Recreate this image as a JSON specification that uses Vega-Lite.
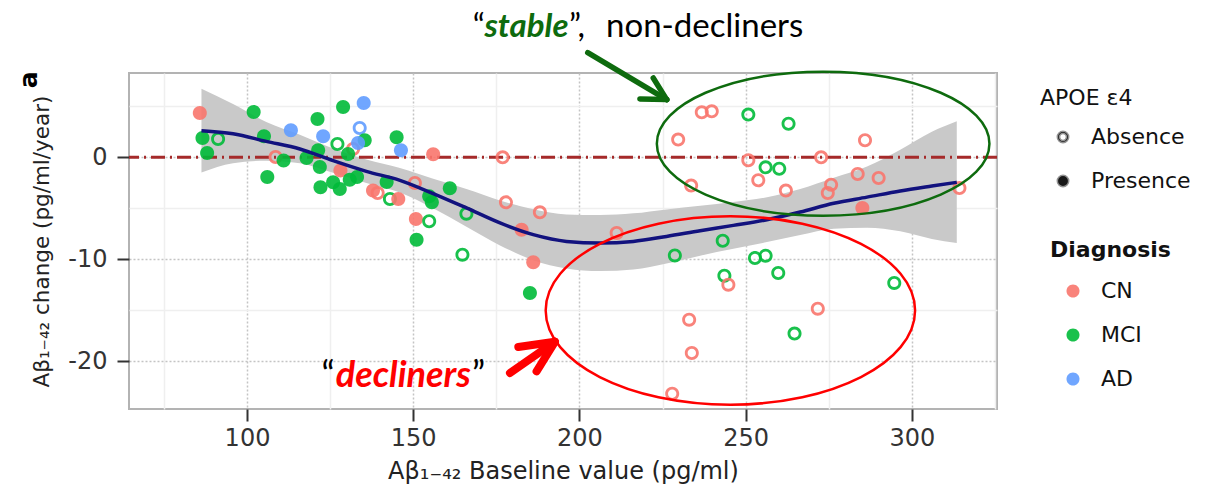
{
  "$schema": "https://vega.github.io/schema/vega-lite/v6.json",
  "width": 868,
  "height": 336,
  "autosize": {"type": "none"},
  "padding": {"left": 129, "top": 73, "right": 216, "bottom": 84},
  "background": "white",
  "config": {
    "view": {"stroke": "#b3b3b3", "strokeWidth": 2},
    "legend": {"labelFont": "DejaVu Sans", "labelFontSize": 22, "labelColor": "#111111", "titleFont": "DejaVu Sans", "titleFontSize": 22, "titleColor": "#111111"}
  },
  "datasets": {
    "pts": [
      {"b": 85.8, "c": 4.35, "dx": "CN", "apoe": "Presence"},
      {"b": 86.6, "c": 1.9, "dx": "MCI", "apoe": "Presence"},
      {"b": 91.3, "c": 1.8, "dx": "MCI", "apoe": "Absence"},
      {"b": 88.0, "c": 0.43, "dx": "MCI", "apoe": "Presence"},
      {"b": 102.0, "c": 4.45, "dx": "MCI", "apoe": "Presence"},
      {"b": 105.1, "c": 2.06, "dx": "MCI", "apoe": "Presence"},
      {"b": 108.6, "c": 0.04, "dx": "CN", "apoe": "Absence"},
      {"b": 111.0, "c": -0.3, "dx": "MCI", "apoe": "Presence"},
      {"b": 106.1, "c": -1.92, "dx": "MCI", "apoe": "Presence"},
      {"b": 113.2, "c": 2.65, "dx": "AD", "apoe": "Presence"},
      {"b": 121.2, "c": 3.76, "dx": "MCI", "apoe": "Presence"},
      {"b": 122.9, "c": 2.06, "dx": "AD", "apoe": "Presence"},
      {"b": 117.9, "c": -0.06, "dx": "MCI", "apoe": "Presence"},
      {"b": 121.4, "c": 0.69, "dx": "MCI", "apoe": "Presence"},
      {"b": 121.9, "c": -0.94, "dx": "MCI", "apoe": "Presence"},
      {"b": 122.1, "c": -2.94, "dx": "MCI", "apoe": "Presence"},
      {"b": 125.9, "c": -2.45, "dx": "MCI", "apoe": "Presence"},
      {"b": 127.9, "c": -3.1, "dx": "MCI", "apoe": "Presence"},
      {"b": 128.9, "c": 4.94, "dx": "MCI", "apoe": "Presence"},
      {"b": 127.2, "c": 1.31, "dx": "MCI", "apoe": "Absence"},
      {"b": 135.1, "c": 5.33, "dx": "AD", "apoe": "Presence"},
      {"b": 133.9, "c": 2.88, "dx": "AD", "apoe": "Absence"},
      {"b": 135.4, "c": 1.67, "dx": "MCI", "apoe": "Presence"},
      {"b": 131.9, "c": 0.82, "dx": "CN", "apoe": "Absence"},
      {"b": 133.4, "c": 1.41, "dx": "AD", "apoe": "Presence"},
      {"b": 130.4, "c": 0.33, "dx": "MCI", "apoe": "Presence"},
      {"b": 128.1, "c": -1.3, "dx": "CN", "apoe": "Presence"},
      {"b": 130.9, "c": -2.19, "dx": "MCI", "apoe": "Presence"},
      {"b": 133.1, "c": -1.92, "dx": "MCI", "apoe": "Presence"},
      {"b": 145.0, "c": 1.96, "dx": "MCI", "apoe": "Presence"},
      {"b": 146.3, "c": 0.69, "dx": "AD", "apoe": "Presence"},
      {"b": 142.0, "c": -2.41, "dx": "MCI", "apoe": "Presence"},
      {"b": 137.9, "c": -3.24, "dx": "CN", "apoe": "Presence"},
      {"b": 139.3, "c": -3.5, "dx": "CN", "apoe": "Absence"},
      {"b": 143.0, "c": -4.08, "dx": "MCI", "apoe": "Absence"},
      {"b": 145.5, "c": -4.08, "dx": "CN", "apoe": "Presence"},
      {"b": 150.5, "c": -2.51, "dx": "CN", "apoe": "Absence"},
      {"b": 150.8, "c": -6.04, "dx": "CN", "apoe": "Presence"},
      {"b": 151.0, "c": -8.07, "dx": "MCI", "apoe": "Presence"},
      {"b": 156.0, "c": 0.3, "dx": "CN", "apoe": "Presence"},
      {"b": 154.8, "c": -6.27, "dx": "MCI", "apoe": "Absence"},
      {"b": 154.8, "c": -3.82, "dx": "MCI", "apoe": "Presence"},
      {"b": 155.6, "c": -4.4, "dx": "MCI", "apoe": "Presence"},
      {"b": 161.0, "c": -3.04, "dx": "MCI", "apoe": "Presence"},
      {"b": 166.0, "c": -5.52, "dx": "MCI", "apoe": "Absence"},
      {"b": 164.8, "c": -9.54, "dx": "MCI", "apoe": "Absence"},
      {"b": 176.9, "c": 0.0, "dx": "CN", "apoe": "Absence"},
      {"b": 177.9, "c": -4.41, "dx": "CN", "apoe": "Absence"},
      {"b": 188.1, "c": -5.39, "dx": "CN", "apoe": "Absence"},
      {"b": 182.6, "c": -7.09, "dx": "CN", "apoe": "Presence"},
      {"b": 186.1, "c": -10.29, "dx": "CN", "apoe": "Presence"},
      {"b": 185.1, "c": -13.3, "dx": "MCI", "apoe": "Presence"},
      {"b": 211.2, "c": -7.41, "dx": "CN", "apoe": "Absence"},
      {"b": 236.8, "c": 4.41, "dx": "CN", "apoe": "Absence"},
      {"b": 239.8, "c": 4.51, "dx": "CN", "apoe": "Absence"},
      {"b": 250.8, "c": 4.19, "dx": "MCI", "apoe": "Absence"},
      {"b": 262.9, "c": 3.3, "dx": "MCI", "apoe": "Absence"},
      {"b": 229.7, "c": 1.74, "dx": "CN", "apoe": "Absence"},
      {"b": 285.9, "c": 1.67, "dx": "CN", "apoe": "Absence"},
      {"b": 250.8, "c": -0.29, "dx": "CN", "apoe": "Absence"},
      {"b": 272.7, "c": 0.0, "dx": "CN", "apoe": "Absence"},
      {"b": 256.0, "c": -0.98, "dx": "MCI", "apoe": "Absence"},
      {"b": 260.1, "c": -1.11, "dx": "MCI", "apoe": "Absence"},
      {"b": 253.8, "c": -2.25, "dx": "CN", "apoe": "Absence"},
      {"b": 233.6, "c": -2.77, "dx": "CN", "apoe": "Absence"},
      {"b": 262.1, "c": -3.26, "dx": "CN", "apoe": "Absence"},
      {"b": 283.7, "c": -1.63, "dx": "CN", "apoe": "Absence"},
      {"b": 290.0, "c": -2.02, "dx": "CN", "apoe": "Absence"},
      {"b": 275.7, "c": -2.68, "dx": "CN", "apoe": "Absence"},
      {"b": 274.7, "c": -3.49, "dx": "CN", "apoe": "Absence"},
      {"b": 285.1, "c": -4.96, "dx": "CN", "apoe": "Presence"},
      {"b": 314.3, "c": -3.0, "dx": "CN", "apoe": "Absence"},
      {"b": 243.1, "c": -8.17, "dx": "MCI", "apoe": "Absence"},
      {"b": 228.7, "c": -9.61, "dx": "MCI", "apoe": "Absence"},
      {"b": 252.8, "c": -9.86, "dx": "MCI", "apoe": "Absence"},
      {"b": 256.0, "c": -9.64, "dx": "MCI", "apoe": "Absence"},
      {"b": 243.6, "c": -11.6, "dx": "MCI", "apoe": "Absence"},
      {"b": 244.8, "c": -12.48, "dx": "CN", "apoe": "Absence"},
      {"b": 259.8, "c": -11.33, "dx": "MCI", "apoe": "Absence"},
      {"b": 294.7, "c": -12.31, "dx": "MCI", "apoe": "Absence"},
      {"b": 271.7, "c": -14.83, "dx": "CN", "apoe": "Absence"},
      {"b": 233.0, "c": -15.91, "dx": "CN", "apoe": "Absence"},
      {"b": 264.7, "c": -17.28, "dx": "MCI", "apoe": "Absence"},
      {"b": 233.8, "c": -19.18, "dx": "CN", "apoe": "Absence"},
      {"b": 227.9, "c": -23.17, "dx": "CN", "apoe": "Absence"}
    ],
    "fit": [
      {"b": 86.3, "fit": 2.62, "lo": -1.48, "hi": 6.72},
      {"b": 95.8, "fit": 2.32, "lo": -0.58, "hi": 5.22},
      {"b": 105.8, "fit": 1.57, "lo": -0.33, "hi": 3.47},
      {"b": 115.9, "fit": 0.82, "lo": -0.58, "hi": 2.22},
      {"b": 125.9, "fit": -0.32, "lo": -1.52, "hi": 0.88},
      {"b": 135.9, "fit": -1.37, "lo": -2.52, "hi": -0.22},
      {"b": 146.0, "fit": -2.25, "lo": -3.45, "hi": -1.05},
      {"b": 156.0, "fit": -3.55, "lo": -5.0, "hi": -2.1},
      {"b": 166.0, "fit": -4.96, "lo": -6.81, "hi": -3.11},
      {"b": 176.1, "fit": -6.43, "lo": -8.63, "hi": -4.23},
      {"b": 186.1, "fit": -7.58, "lo": -10.08, "hi": -5.08},
      {"b": 196.1, "fit": -8.24, "lo": -10.89, "hi": -5.59},
      {"b": 206.2, "fit": -8.4, "lo": -11.15, "hi": -5.65},
      {"b": 216.2, "fit": -8.24, "lo": -10.99, "hi": -5.49},
      {"b": 226.2, "fit": -7.75, "lo": -10.4, "hi": -5.1},
      {"b": 236.3, "fit": -7.19, "lo": -9.64, "hi": -4.74},
      {"b": 246.3, "fit": -6.67, "lo": -8.97, "hi": -4.37},
      {"b": 256.4, "fit": -6.11, "lo": -8.31, "hi": -3.91},
      {"b": 266.4, "fit": -5.36, "lo": -7.61, "hi": -3.11},
      {"b": 276.5, "fit": -4.5, "lo": -7.0, "hi": -2.0},
      {"b": 286.5, "fit": -3.9, "lo": -6.9, "hi": -0.9},
      {"b": 296.5, "fit": -3.29, "lo": -7.25, "hi": 0.75},
      {"b": 306.0, "fit": -2.81, "lo": -8.0, "hi": 2.5},
      {"b": 313.5, "fit": -2.45, "lo": -8.4, "hi": 3.53}
    ]
  },
  "layer": [
    {
      "data": {"name": "fit"},
      "mark": {"type": "area", "color": "#c9c9c9", "interpolate": "monotone"},
      "encoding": {
        "x": {
          "field": "b", "type": "quantitative",
          "scale": {"domain": [64.5, 325.6], "nice": false, "zero": false},
          "title": "Aβ₁₋₄₂ Baseline value (pg/ml)",
          "axis": {
            "values": [75, 100, 125, 150, 175, 200, 225, 250, 275, 300, 325],
            "labelExpr": "datum.value % 50 === 0 ? '' + datum.value : ''",
            "labelFlush": false, "labelOverlap": false,
            "domain": false,
            "tickColor": {"condition": {"test": "datum.value % 50 === 0", "value": "#333333"}, "value": "transparent"},
            "tickSize": 12, "tickWidth": 2,
            "gridColor": {"condition": {"test": "datum.value % 50 === 0", "value": "#c4c4c4"}, "value": "#efefef"},
            "gridDash": {"condition": {"test": "datum.value % 50 === 0", "value": [2, 2]}, "value": []},
            "gridWidth": 1.5,
            "labelFont": "DejaVu Sans", "labelFontSize": 24, "labelColor": "#333333", "labelPadding": 5,
            "titleFont": "DejaVu Sans", "titleFontSize": 24, "titleFontWeight": "normal", "titleColor": "#222222", "titlePadding": 9
          }
        },
        "y": {
          "field": "lo", "type": "quantitative",
          "scale": {"domain": [-24.67, 8.27], "nice": false, "zero": false},
          "title": "Aβ₁₋₄₂ change (pg/ml/year)",
          "axis": {
            "values": [-20, -15, -10, -5, 0, 5],
            "labelExpr": "datum.value % 10 === 0 ? '' + datum.value : ''",
            "labelFlush": false, "labelOverlap": false,
            "domain": false,
            "tickColor": {"condition": {"test": "datum.value % 10 === 0", "value": "#333333"}, "value": "transparent"},
            "tickSize": 12, "tickWidth": 2,
            "gridColor": {"condition": {"test": "datum.value % 10 === 0", "value": "#c4c4c4"}, "value": "#efefef"},
            "gridDash": {"condition": {"test": "datum.value % 10 === 0", "value": [2, 2]}, "value": []},
            "gridWidth": 1.5,
            "labelFont": "DejaVu Sans", "labelFontSize": 24, "labelColor": "#333333", "labelPadding": 10,
            "titleFont": "DejaVu Sans", "titleFontSize": 21.5, "titleFontWeight": "normal", "titleColor": "#222222", "titlePadding": 14
          }
        },
        "y2": {"field": "hi"}
      }
    },
    {
      "data": {"values": [{"z": 0}]},
      "mark": {"type": "rule", "color": "#a52a2a", "strokeWidth": 3, "strokeDash": [14, 5, 2, 5]},
      "encoding": {"y": {"field": "z", "type": "quantitative"}}
    },
    {
      "data": {"name": "pts"},
      "mark": {"type": "point", "filled": true, "size": 196, "opacity": 0.9},
      "encoding": {
        "x": {"field": "b", "type": "quantitative"},
        "y": {"field": "c", "type": "quantitative"},
        "shape": {
          "field": "apoe", "type": "nominal",
          "scale": {"domain": ["Absence", "Presence"], "range": ["M-1,0A1,1,0,1,0,1,0A1,1,0,1,0,-1,0ZM-0.6,0A0.6,0.6,0,1,1,0.6,0A0.6,0.6,0,1,1,-0.6,0Z", "M-1,0A1,1,0,1,0,1,0A1,1,0,1,0,-1,0Z"]},
          "legend": {"title": "APOE ε4", "titleFontWeight": "normal", "symbolFillColor": "black", "symbolSize": 130, "orient": "right", "offset": 28, "padding": 15, "symbolOffset": 12, "labelOffset": 17, "rowPadding": 22, "titlePadding": 16}
        },
        "fill": {
          "field": "dx", "type": "nominal",
          "scale": {"domain": ["CN", "MCI", "AD"], "range": ["#F8766D", "#00BA38", "#619CFF"]},
          "legend": {"title": "Diagnosis", "titleFontWeight": "bold", "symbolType": "M-1,0A1,1,0,1,0,1,0A1,1,0,1,0,-1,0Z", "symbolSize": 170, "orient": "right", "offset": 18, "padding": 25, "symbolOffset": 12, "labelOffset": 17, "rowPadding": 22, "titlePadding": 18}
        }
      }
    },
    {
      "data": {"name": "fit"},
      "mark": {"type": "line", "color": "#12127e", "strokeWidth": 3.5, "interpolate": "monotone"},
      "encoding": {
        "x": {"field": "b", "type": "quantitative"},
        "y": {"field": "fit", "type": "quantitative"}
      }
    },
    {
      "data": {"values": [{"x": 273.3, "y": 1.34}]},
      "mark": {"type": "point", "filled": false, "shape": "M-1,0A1,0.433,0,1,1,1,0A1,0.433,0,1,1,-1,0Z", "size": 110623, "stroke": "#0e6b0e", "strokeWidth": 2.5, "opacity": 1},
      "encoding": {
        "x": {"field": "x", "type": "quantitative"},
        "y": {"field": "y", "type": "quantitative"}
      }
    },
    {
      "data": {"values": [{"x": 245.4, "y": -15.01}]},
      "mark": {"type": "point", "filled": false, "shape": "M-1,0A1,0.51,0,1,1,1,0A1,0.51,0,1,1,-1,0Z", "size": 136456, "stroke": "#ff0000", "strokeWidth": 2.5, "opacity": 1},
      "encoding": {
        "x": {"field": "x", "type": "quantitative"},
        "y": {"field": "y", "type": "quantitative"}
      }
    },
    {
      "data": {"values": [
        {"x": 202.5, "y": 10.26, "x2": 226.25, "y2": 5.66},
        {"x": 222.2, "y": 7.78, "x2": 226.25, "y2": 5.66},
        {"x": 218.2, "y": 5.73, "x2": 226.25, "y2": 5.66}
      ]},
      "mark": {"type": "rule", "color": "#0e6b0e", "strokeWidth": 5.5, "strokeCap": "round"},
      "encoding": {
        "x": {"field": "x", "type": "quantitative"},
        "y": {"field": "y", "type": "quantitative"},
        "x2": {"field": "x2"},
        "y2": {"field": "y2"}
      }
    },
    {
      "data": {"values": [
        {"x": 179.1, "y": -21.14, "x2": 192.6, "y2": -18.08},
        {"x": 181.6, "y": -18.59, "x2": 192.6, "y2": -18.08},
        {"x": 187.1, "y": -20.98, "x2": 192.6, "y2": -18.08}
      ]},
      "mark": {"type": "rule", "color": "#ff0000", "strokeWidth": 8, "strokeCap": "round"},
      "encoding": {
        "x": {"field": "x", "type": "quantitative"},
        "y": {"field": "y", "type": "quantitative"},
        "x2": {"field": "x2"},
        "y2": {"field": "y2"}
      }
    },
    {
      "data": {"values": [
        {"x": 171.55, "y": 11.83, "t": "“"}
      ]},
      "mark": {"type": "text", "font": "Lato", "fontSize": 33, "color": "black", "align": "right", "baseline": "alphabetic"},
      "encoding": {
        "x": {"field": "x", "type": "quantitative"},
        "y": {"field": "y", "type": "quantitative"},
        "text": {"field": "t"}
      }
    },
    {
      "data": {"values": [
        {"x": 196.85, "y": 11.83, "t": "”,"},
        {"x": 208.0, "y": 11.83, "t": "non-decliners"}
      ]},
      "mark": {"type": "text", "font": "Lato", "fontSize": 33, "color": "black", "align": "left", "baseline": "alphabetic"},
      "encoding": {
        "x": {"field": "x", "type": "quantitative"},
        "y": {"field": "y", "type": "quantitative"},
        "text": {"field": "t"}
      }
    },
    {
      "data": {"values": [
        {"x": 126.4, "y": -22.49, "t": "“"}
      ]},
      "mark": {"type": "text", "font": "Lato", "fontSize": 36, "color": "black", "align": "right", "baseline": "alphabetic"},
      "encoding": {
        "x": {"field": "x", "type": "quantitative"},
        "y": {"field": "y", "type": "quantitative"},
        "text": {"field": "t"}
      }
    },
    {
      "data": {"values": [
        {"x": 167.65, "y": -22.49, "t": "”"}
      ]},
      "mark": {"type": "text", "font": "Lato", "fontSize": 36, "color": "black", "align": "left", "baseline": "alphabetic"},
      "encoding": {
        "x": {"field": "x", "type": "quantitative"},
        "y": {"field": "y", "type": "quantitative"},
        "text": {"field": "t"}
      }
    },
    {
      "data": {"values": [{"x": 184.05, "y": 11.83, "t": "stable"}]},
      "mark": {"type": "text", "font": "Lato", "fontSize": 33, "fontWeight": "bold", "fontStyle": "italic", "color": "#0e6b0e", "align": "center", "baseline": "alphabetic"},
      "encoding": {
        "x": {"field": "x", "type": "quantitative"},
        "y": {"field": "y", "type": "quantitative"},
        "text": {"field": "t"}
      }
    },
    {
      "data": {"values": [{"x": 147.02, "y": -22.49, "t": "decliners"}]},
      "mark": {"type": "text", "font": "Lato", "fontSize": 36, "fontWeight": "bold", "fontStyle": "italic", "color": "#ff0000", "align": "center", "baseline": "alphabetic"},
      "encoding": {
        "x": {"field": "x", "type": "quantitative"},
        "y": {"field": "y", "type": "quantitative"},
        "text": {"field": "t"}
      }
    },
    {
      "data": {"values": [{"x": 34.3, "y": 7.6, "t": "a"}]},
      "mark": {"type": "text", "font": "DejaVu Sans", "fontSize": 25, "fontWeight": "bold", "color": "black", "angle": 270, "align": "center", "baseline": "middle"},
      "encoding": {
        "x": {"field": "x", "type": "quantitative"},
        "y": {"field": "y", "type": "quantitative"},
        "text": {"field": "t"}
      }
    }
  ]
}
